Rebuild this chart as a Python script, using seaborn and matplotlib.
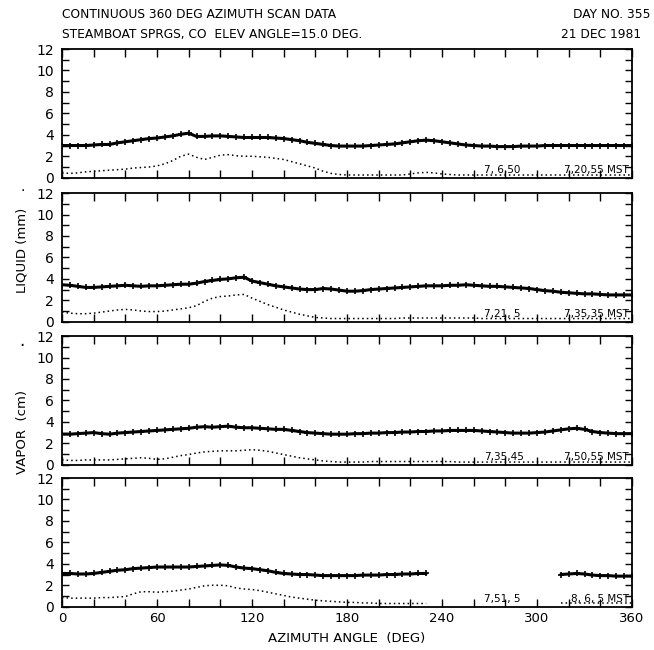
import numpy as np
import pandas as pd
import seaborn as sns
import matplotlib.pyplot as plt

# azimuth grid, every 5 degrees
azimuth = list(range(0, 361, 5))
nan = np.nan

# panel 1: 7,6,50 - 7,20,55 MST
vapor_1 = [3.0, 3.0, 3.0, 3.0, 3.05, 3.1, 3.1, 3.25, 3.35, 3.45, 3.55, 3.65, 3.7, 3.8, 3.9, 4.05,
           4.15, 3.85, 3.85, 3.9, 3.9, 3.85, 3.8, 3.75, 3.75, 3.75, 3.75, 3.7, 3.65, 3.55, 3.45, 3.3,
           3.2, 3.1, 3.0, 2.95, 2.95, 2.95, 2.95, 3.0, 3.05, 3.1, 3.15, 3.25, 3.35, 3.45, 3.5, 3.45,
           3.35, 3.25, 3.15, 3.05, 3.0, 2.95, 2.95, 2.9, 2.9, 2.9, 2.95, 2.95, 2.95, 3.0, 3.0, 3.0,
           3.0, 3.0, 3.0, 3.0, 3.0, 3.0, 3.0, 3.0, 3.0]
liquid_1 = [0.45, 0.4, 0.45, 0.55, 0.6, 0.65, 0.7, 0.75, 0.8, 0.9, 0.95, 1.0, 1.1, 1.3, 1.6, 2.0,
            2.2, 1.9, 1.7, 1.9, 2.1, 2.15, 2.05, 2.0, 2.0, 1.95, 1.9, 1.8, 1.7, 1.5, 1.3, 1.1,
            0.9, 0.6, 0.4, 0.3, 0.25, 0.25, 0.25, 0.25, 0.25, 0.25, 0.25, 0.25, 0.35, 0.45, 0.5, 0.45,
            0.35, 0.3, 0.25, 0.25, 0.25, 0.25, 0.25, 0.25, 0.25, 0.25, 0.25, 0.25, 0.25, 0.25, 0.25, 0.25,
            0.25, 0.25, 0.25, 0.25, 0.25, 0.25, 0.25, 0.25, 0.25]

# panel 2: 7,21,5 - 7,35,35 MST
vapor_2 = [3.45, 3.4, 3.3, 3.2, 3.2, 3.25, 3.3, 3.35, 3.4, 3.35, 3.3, 3.35, 3.35, 3.4, 3.45, 3.5,
           3.5, 3.6, 3.75, 3.85, 3.95, 4.0, 4.1, 4.15, 3.8, 3.65, 3.5, 3.35, 3.25, 3.15, 3.05, 3.0,
           3.0, 3.1, 3.05, 2.95, 2.85, 2.85, 2.9, 3.0, 3.05, 3.1, 3.15, 3.2, 3.25, 3.3, 3.35, 3.35,
           3.35, 3.4, 3.4, 3.45, 3.4, 3.35, 3.3, 3.3, 3.25, 3.2, 3.15, 3.1, 3.0, 2.9, 2.85, 2.75,
           2.7, 2.65, 2.6, 2.6, 2.55, 2.5, 2.5, 2.5, 2.5]
liquid_2 = [0.9, 0.8, 0.75, 0.75, 0.8, 0.9, 1.0, 1.1, 1.15, 1.1, 1.0, 0.95, 0.95, 1.0, 1.1, 1.2,
            1.3, 1.5, 1.9, 2.2, 2.35, 2.4, 2.5, 2.55, 2.2, 1.9, 1.6, 1.35, 1.1, 0.9, 0.7, 0.55,
            0.4, 0.35, 0.3, 0.3, 0.3, 0.3, 0.3, 0.3, 0.3, 0.3, 0.3, 0.35, 0.35, 0.35, 0.35, 0.35,
            0.35, 0.35, 0.35, 0.35, 0.35, 0.3, 0.3, 0.3, 0.3, 0.3, 0.3, 0.3, 0.3, 0.3, 0.3, 0.3,
            0.3, 0.3, 0.3, 0.3, 0.3, 0.3, 0.3, 0.3, 0.3]

# panel 3: 7,35,45 - 7,50,55 MST
vapor_3 = [2.85, 2.85, 2.9, 2.95, 3.0, 2.9, 2.85, 2.95, 3.0, 3.05, 3.1, 3.15, 3.2, 3.25, 3.3, 3.35,
           3.4, 3.5, 3.55, 3.5, 3.55, 3.6, 3.5, 3.45, 3.45, 3.4, 3.35, 3.3, 3.3, 3.2, 3.1, 3.0,
           2.95, 2.9, 2.85, 2.85, 2.85, 2.9, 2.9, 2.95, 2.95, 3.0, 3.0, 3.05, 3.05, 3.1, 3.1, 3.15,
           3.15, 3.2, 3.2, 3.2, 3.2, 3.15, 3.1, 3.05, 3.0, 2.95, 2.95, 2.95, 3.0, 3.05, 3.15, 3.25,
           3.35, 3.4, 3.3, 3.1, 3.0, 2.95, 2.9, 2.9, 2.9]
liquid_3 = [0.45, 0.4, 0.4, 0.45, 0.45, 0.45, 0.45, 0.5, 0.55, 0.6, 0.65, 0.6, 0.5, 0.55, 0.7, 0.85,
            0.95, 1.1, 1.2, 1.25, 1.3, 1.3, 1.3, 1.35, 1.4, 1.35, 1.25, 1.1, 0.95, 0.8, 0.65, 0.55,
            0.45, 0.35, 0.3, 0.25, 0.25, 0.25, 0.25, 0.3, 0.3, 0.3, 0.3, 0.3, 0.3, 0.3, 0.3, 0.3,
            0.3, 0.3, 0.25, 0.25, 0.25, 0.25, 0.25, 0.25, 0.25, 0.25, 0.25, 0.25, 0.25, 0.25, 0.25, 0.25,
            0.25, 0.25, 0.25, 0.25, 0.25, 0.25, 0.25, 0.25, 0.25]

# panel 4: 7,51,5 - 8,6,5 MST (data gap 235-310 deg)
vapor_4 = [3.1, 3.1, 3.05, 3.05, 3.1, 3.2, 3.3, 3.4, 3.45, 3.55, 3.6, 3.65, 3.7, 3.7, 3.7, 3.7,
           3.7, 3.75, 3.8, 3.85, 3.9, 3.85, 3.7, 3.6, 3.55, 3.45, 3.35, 3.2, 3.1, 3.05, 3.0, 3.0,
           2.95, 2.9, 2.9, 2.9, 2.9, 2.9, 2.95, 2.95, 2.95, 3.0, 3.0, 3.05, 3.05, 3.1, 3.1, nan,
           nan, nan, nan, nan, nan, nan, nan, nan, nan, nan, nan, nan, nan, nan, nan, 3.0,
           3.05, 3.1, 3.05, 2.95, 2.9, 2.9, 2.85, 2.85, 2.85]
liquid_4 = [0.85, 0.8, 0.8, 0.8, 0.8, 0.85, 0.85, 0.9, 0.95, 1.2, 1.4, 1.4, 1.35, 1.4, 1.45, 1.55,
            1.65, 1.8, 1.95, 2.0, 2.0, 1.95, 1.75, 1.65, 1.6, 1.5, 1.35, 1.2, 1.05, 0.9, 0.8, 0.7,
            0.6, 0.55, 0.5, 0.45, 0.4, 0.4, 0.35, 0.35, 0.3, 0.3, 0.3, 0.3, 0.3, 0.3, 0.3, nan,
            nan, nan, nan, nan, nan, nan, nan, nan, nan, nan, nan, nan, nan, nan, nan, 0.3,
            0.3, 0.3, 0.3, 0.3, 0.3, 0.3, 0.3, 0.3, 0.3]

vapor = [vapor_1, vapor_2, vapor_3, vapor_4]
liquid = [liquid_1, liquid_2, liquid_3, liquid_4]
start_times = ['7, 6,50', '7,21, 5', '7,35,45', '7,51, 5']
end_times = ['7,20,55 MST', '7,35,35 MST', '7,50,55 MST', '8, 6, 5 MST']

sns.set_style('ticks', {'axes.edgecolor': 'black', 'text.color': 'black',
                        'xtick.color': 'black', 'ytick.color': 'black'})
plt.rcParams['font.family'] = ['DejaVu Sans']


def frame(values):
    df = pd.DataFrame({'azimuth': azimuth, 'value': values})
    # segment id so gaps are not bridged
    df['seg'] = df['value'].isna().cumsum()
    return df.dropna()


fig = plt.figure(figsize=(6.54, 6.50), dpi=100)
tops = [0.9246, 0.703, 0.483, 0.2646]
height = 0.198

for i in range(4):
    ax = fig.add_axes([0.0948, tops[i] - height, 0.8716, height])
    sns.lineplot(data=frame(vapor[i]), x='azimuth', y='value', units='seg', estimator=None,
                 color='black', linewidth=2.2, marker='+', markersize=5, markeredgewidth=1.2,
                 markeredgecolor='black', ax=ax)
    sns.lineplot(data=frame(liquid[i]), x='azimuth', y='value', units='seg', estimator=None,
                 color='black', linewidth=1.1, linestyle=(0, (1, 2)), ax=ax)
    ax.set_xlim(0, 360)
    ax.set_ylim(0, 12)
    ax.set_xticks(range(0, 361, 20))
    ax.set_yticks(range(0, 13))
    ax.set_yticklabels([str(v) if v % 2 == 0 else '' for v in range(0, 13)], fontsize=10)
    if i == 3:
        ax.set_xticklabels([str(v) if v % 60 == 0 else '' for v in range(0, 361, 20)], fontsize=9.5)
    else:
        ax.set_xticklabels([])
    ax.tick_params(direction='in', top=True, right=True, length=5, width=1.0, pad=6)
    ax.tick_params(axis='x', length=6, pad=4)
    for s in ax.spines.values():
        s.set_linewidth(1.3)
    ax.set_xlabel('')
    ax.set_ylabel('')
    ax.text(0.74, 0.02, start_times[i], transform=ax.transAxes, fontsize=7.5, ha='left', va='bottom')
    ax.text(0.995, 0.02, end_times[i], transform=ax.transAxes, fontsize=7.5, ha='right', va='bottom')

fig.text(0.0948, 0.968, 'CONTINUOUS 360 DEG AZIMUTH SCAN DATA', fontsize=8.8, ha='left', va='bottom')
fig.text(0.0948, 0.937, 'STEAMBOAT SPRGS, CO  ELEV ANGLE=15.0 DEG.', fontsize=8.8, ha='left', va='bottom')
fig.text(0.995, 0.968, 'DAY NO. 355', fontsize=8.8, ha='right', va='bottom')
fig.text(0.98, 0.937, '21 DEC 1981', fontsize=8.8, ha='right', va='bottom')

fig.text(0.034, 0.615, 'LIQUID (mm)', fontsize=9.5, rotation=90, ha='center', va='center')
fig.text(0.034, 0.713, '.', fontsize=10, ha='center', va='center')
fig.text(0.034, 0.335, 'VAPOR  (cm)', fontsize=9.5, rotation=90, ha='center', va='center')
fig.text(0.034, 0.468, '·', fontsize=12, ha='center', va='center')
fig.text(0.53, 0.018, 'AZIMUTH ANGLE  (DEG)', fontsize=9.5, ha='center', va='center')

plt.savefig('out.png', dpi=100)
